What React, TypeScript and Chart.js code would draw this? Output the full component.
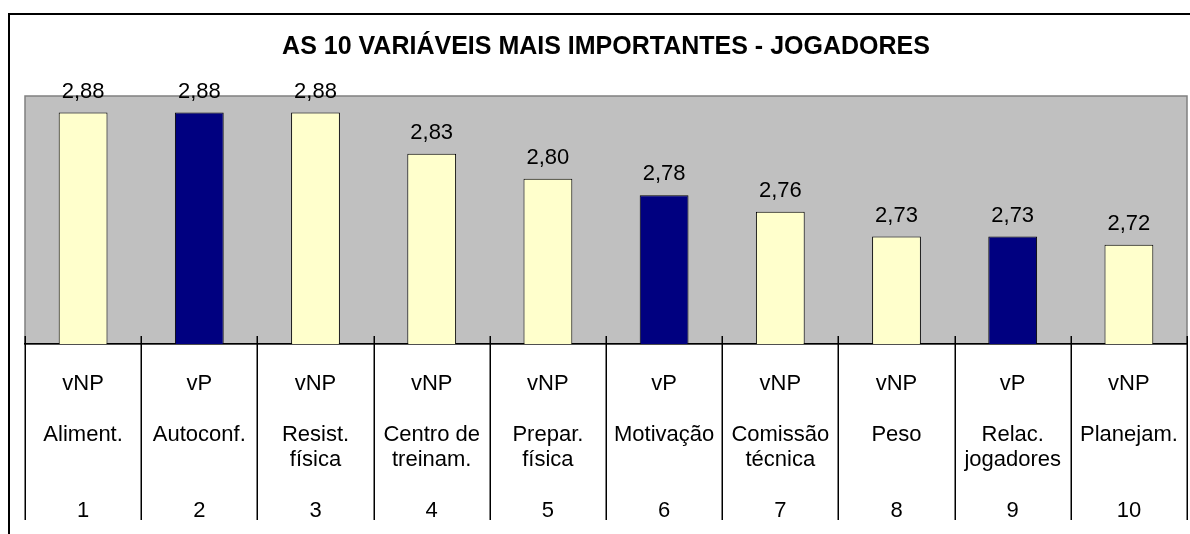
import React, { useEffect, useRef } from "react";
import { Chart, registerables } from "chart.js";

Chart.register(...registerables);

const titleText = "AS 10 VARIÁVEIS MAIS IMPORTANTES - JOGADORES";
const types = ["vNP", "vP", "vNP", "vNP", "vNP", "vP", "vNP", "vNP", "vP", "vNP"];
const names = [
  ["Aliment."],
  ["Autoconf."],
  ["Resist.", "física"],
  ["Centro de", "treinam."],
  ["Prepar.", "física"],
  ["Motivação"],
  ["Comissão", "técnica"],
  ["Peso"],
  ["Relac.", "jogadores"],
  ["Planejam."],
];
const ranks = ["1", "2", "3", "4", "5", "6", "7", "8", "9", "10"];
const values = [2.88, 2.88, 2.88, 2.83, 2.8, 2.78, 2.76, 2.73, 2.73, 2.72];

const colorNP = "#FFFFCC";
const colorP = "#000080";
const FONT = '"Liberation Sans", Arial, sans-serif';

export default function App() {
  const ref = useRef<HTMLCanvasElement>(null);

  useEffect(() => {
    if (!ref.current) return;
    const labels = types.map((t, i) => [t, "", names[i][0], names[i][1] ?? "", "", ranks[i]]);

    const bgPlugin = {
      id: "plotBg",
      beforeDraw(chart: any) {
        const { ctx, chartArea: a } = chart;
        ctx.save();
        ctx.fillStyle = "#C0C0C0";
        ctx.fillRect(a.left, a.top, a.right - a.left, a.bottom - a.top);
        ctx.strokeStyle = "#808080";
        ctx.lineWidth = 1.5;
        ctx.strokeRect(a.left, a.top, a.right - a.left, a.bottom - a.top);
        ctx.restore();
      },
    };

    const dividerPlugin = {
      id: "dividers",
      afterDraw(chart: any) {
        const { ctx, chartArea: a } = chart;
        const xs = chart.scales.x;
        ctx.save();
        ctx.strokeStyle = "#000";
        ctx.lineWidth = 1.5;
        for (let i = 0; i <= values.length; i++) {
          const px = Math.round(xs.getPixelForValue(i - 0.5)) + 0.25;
          ctx.beginPath();
          ctx.moveTo(px, a.bottom - 8);
          ctx.lineTo(px, a.bottom + 176);
          ctx.stroke();
        }
        ctx.restore();
      },
    };

    const valueLabelPlugin = {
      id: "valueLabels",
      afterDatasetsDraw(chart: any) {
        const { ctx } = chart;
        const meta = chart.getDatasetMeta(0);
        ctx.save();
        ctx.font = `22px ${FONT}`;
        ctx.fillStyle = "#000";
        ctx.textAlign = "center";
        ctx.textBaseline = "middle";
        meta.data.forEach((el: any, i: number) => {
          ctx.fillText(values[i].toFixed(2).replace(".", ","), el.x, el.y - 21);
        });
        ctx.restore();
      },
    };

    const chart = new Chart(ref.current, {
      type: "bar",
      data: {
        labels,
        datasets: [
          {
            data: values,
            backgroundColor: types.map((t) => (t === "vP" ? colorP : colorNP)),
            borderColor: "#000",
            borderWidth: 1,
            barPercentage: 0.42,
            categoryPercentage: 1,
          },
        ],
      },
      options: {
        responsive: false,
        animation: false,
        devicePixelRatio: 1,
        layout: { padding: { left: 15, right: 3, top: 0, bottom: 10 } },
        plugins: {
          legend: { display: false },
          tooltip: { enabled: false },
          title: {
            display: true,
            text: titleText,
            color: "#000",
            font: { family: FONT, size: 25, weight: "bold", lineHeight: 1.2 },
            padding: { top: 17, bottom: 34 },
          },
        },
        scales: {
          x: {
            grid: { display: false },
            border: { display: true, color: "#000", width: 1.5 },
            ticks: {
              color: "#000",
              font: { family: FONT, size: 22, lineHeight: 25.5 / 22 },
              padding: 19,
              autoSkip: false,
              maxRotation: 0,
              minRotation: 0,
            },
            afterFit: (s: any) => {
              s.height = 180;
              s.paddingLeft = 0;
              s.paddingRight = 0;
            },
          },
          y: { display: false, min: 2.6, max: 2.9 },
        },
      },
      plugins: [bgPlugin, dividerPlugin, valueLabelPlugin],
    });
    return () => chart.destroy();
  }, []);

  return (
    <div
      style={{
        position: "fixed",
        left: 8,
        top: 13,
        width: 1180,
        height: 519,
        borderTop: "2px solid #000",
        borderLeft: "2px solid #000",
        background: "#fff",
      }}
    >
      <canvas ref={ref} width={1180} height={519} style={{ display: "block", width: 1180, height: 519 }} />
    </div>
  );
}
